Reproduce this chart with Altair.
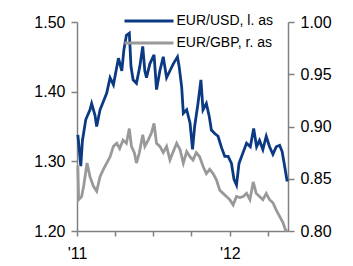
import altair as alt
import pandas as pd

usd_dates = [
    "2011-01-03", "2011-01-05", "2011-01-10", "2011-01-14", "2011-01-22", "2011-02-01",
    "2011-02-05", "2011-02-13", "2011-02-17", "2011-02-25", "2011-03-05", "2011-03-13",
    "2011-03-21", "2011-03-29", "2011-04-10", "2011-04-18", "2011-04-23", "2011-04-29",
    "2011-05-06", "2011-05-10", "2011-05-15", "2011-05-23", "2011-05-31", "2011-06-07",
    "2011-06-12", "2011-06-16", "2011-06-24", "2011-07-04", "2011-07-10", "2011-07-18",
    "2011-07-26", "2011-08-03", "2011-08-11", "2011-08-19", "2011-08-29", "2011-09-02",
    "2011-09-08", "2011-09-12", "2011-09-20", "2011-09-28", "2011-10-04", "2011-10-09",
    "2011-10-17", "2011-10-24", "2011-10-29", "2011-11-06", "2011-11-13", "2011-11-18",
    "2011-11-26", "2011-12-04", "2011-12-12", "2011-12-20", "2011-12-28", "2012-01-05",
    "2012-01-11", "2012-01-17", "2012-01-23", "2012-01-31", "2012-02-10", "2012-02-19",
    "2012-02-27", "2012-03-05", "2012-03-12", "2012-03-20", "2012-03-28", "2012-04-05",
    "2012-04-13", "2012-04-21", "2012-04-29", "2012-05-05", "2012-05-11", "2012-05-17",
]
usd_values = [
    1.338, 1.326, 1.293, 1.330, 1.360, 1.374,
    1.383, 1.366, 1.350, 1.374, 1.386, 1.398,
    1.420, 1.410, 1.448, 1.430, 1.460, 1.481,
    1.484, 1.436, 1.417, 1.412, 1.436, 1.465,
    1.430, 1.420, 1.440, 1.453, 1.403, 1.430,
    1.450, 1.420, 1.430, 1.440, 1.450, 1.436,
    1.407, 1.369, 1.374, 1.355, 1.317, 1.350,
    1.383, 1.417, 1.374, 1.383, 1.364, 1.345,
    1.340, 1.336, 1.320, 1.307, 1.307, 1.297,
    1.274, 1.266, 1.297, 1.310, 1.326, 1.321,
    1.347, 1.321, 1.330, 1.317, 1.336, 1.321,
    1.310, 1.321, 1.323, 1.314, 1.293, 1.271,
]

gbp_dates = [
    "2011-01-03", "2011-01-05", "2011-01-12", "2011-01-17", "2011-01-25", "2011-02-01",
    "2011-02-09", "2011-02-17", "2011-02-25", "2011-03-05", "2011-03-13", "2011-03-21",
    "2011-03-29", "2011-04-06", "2011-04-13", "2011-04-21", "2011-04-29", "2011-05-06",
    "2011-05-11", "2011-05-18", "2011-05-23", "2011-05-30", "2011-06-07", "2011-06-12",
    "2011-06-20", "2011-06-28", "2011-07-04", "2011-07-10", "2011-07-18", "2011-07-26",
    "2011-08-03", "2011-08-11", "2011-08-19", "2011-08-27", "2011-09-04", "2011-09-12",
    "2011-09-20", "2011-09-28", "2011-10-05", "2011-10-13", "2011-10-21", "2011-10-29",
    "2011-11-06", "2011-11-14", "2011-11-22", "2011-11-30", "2011-12-08", "2011-12-16",
    "2011-12-24", "2012-01-01", "2012-01-09", "2012-01-17", "2012-01-25", "2012-02-02",
    "2012-02-10", "2012-02-18", "2012-02-26", "2012-03-04", "2012-03-12", "2012-03-20",
    "2012-03-28", "2012-04-05", "2012-04-13", "2012-04-21", "2012-04-29", "2012-05-07",
    "2012-05-13", "2012-05-17",
]
gbp_values = [
    0.862, 0.830, 0.833, 0.843, 0.865, 0.852,
    0.843, 0.838, 0.852, 0.859, 0.865, 0.871,
    0.881, 0.884, 0.879, 0.887, 0.884, 0.898,
    0.881, 0.875, 0.865, 0.875, 0.892, 0.881,
    0.887, 0.894, 0.903, 0.884, 0.881, 0.875,
    0.881, 0.868, 0.876, 0.884, 0.878, 0.865,
    0.876, 0.871, 0.868, 0.875, 0.871, 0.862,
    0.855, 0.859, 0.855, 0.849, 0.839, 0.836,
    0.833, 0.830, 0.825, 0.833, 0.832, 0.833,
    0.836, 0.830, 0.847, 0.836, 0.833, 0.830,
    0.836, 0.830, 0.827, 0.820, 0.814, 0.808,
    0.801, 0.800,
]

series_names = ["EUR/USD, l. as", "EUR/GBP, r. as"]
series_colors = ["#0b3a82", "#999999"]
left_ticks = [1.20, 1.30, 1.40, 1.50]
right_ticks = [0.80, 0.85, 0.90, 0.95, 1.00]

usd = pd.DataFrame({"date": usd_dates, "value": usd_values, "series": series_names[0]})
gbp = pd.DataFrame({"date": gbp_dates, "value": gbp_values, "series": series_names[1]})

FONT = "Liberation Sans"
AX = "#808080"

x_ticks = [
    alt.DateTime(year=2011, month=1, date=1, utc=True),
    alt.DateTime(year=2011, month=4, date=1, utc=True),
    alt.DateTime(year=2011, month=7, date=1, utc=True),
    alt.DateTime(year=2011, month=10, date=1, utc=True),
    alt.DateTime(year=2012, month=1, date=1, utc=True),
    alt.DateTime(year=2012, month=4, date=1, utc=True),
]

x_enc = alt.X(
    "date:T",
    title=None,
    scale=alt.Scale(
        type="utc",
        domain=[alt.DateTime(year=2011, month=1, date=1, utc=True),
                alt.DateTime(year=2012, month=5, date=19, utc=True)],
    ),
    axis=alt.Axis(
        values=x_ticks,
        labelExpr="utcmonth(datum.value) == 0 ? \"'\" + utcFormat(datum.value, '%y') : ''",
        labelFlush=False,
        labelOverlap=False,
        grid=False,
        tickSize=5,
        labelPadding=9,
    ),
)

color_enc = alt.Color(
    "series:N",
    scale=alt.Scale(domain=series_names, range=series_colors),
    legend=alt.Legend(
        title=None,
        orient="none",
        legendX=60.5,
        legendY=-12.5,
        symbolType="M-2.45,0H2.45",
        symbolSize=400,
        symbolStrokeWidth=3,
        symbolFillColor="transparent",
        labelFont=FONT,
        labelFontSize=14,
        labelColor="#000000",
        labelOffset=16,
        rowPadding=3,
        padding=0,
    ),
)

left = alt.Chart(usd).mark_line(strokeWidth=2.8).encode(
    x=x_enc,
    y=alt.Y(
        "value:Q",
        title=None,
        scale=alt.Scale(domain=[1.20, 1.50], nice=False, zero=False),
        axis=alt.Axis(values=left_ticks, format=".2f", grid=False, orient="left",
                      tickSize=6, labelPadding=6),
    ),
    color=color_enc,
)

right = alt.Chart(gbp).mark_line(strokeWidth=2.8).encode(
    x=x_enc,
    y=alt.Y(
        "value:Q",
        title=None,
        scale=alt.Scale(domain=[0.80, 1.00], nice=False, zero=False),
        axis=alt.Axis(values=right_ticks, format=".2f", grid=False, orient="right",
                      tickSize=6, labelPadding=6),
    ),
    color=color_enc,
)

chart = (
    alt.layer(right, left)
    .resolve_scale(y="independent")
    .properties(
        width=211,
        height=209,
        autosize=alt.AutoSizeParams(type="none"),
        padding={"left": 69, "top": 14, "right": 57, "bottom": 36},
    )
    .configure_view(stroke=None)
    .configure_axis(
        domainColor=AX,
        tickColor=AX,
        domainWidth=1.5,
        tickWidth=1.5,
        labelFont=FONT,
        labelFontSize=16,
        labelColor="#000000",
    )
)

chart.save("out.html", embed_options={"renderer": "svg", "actions": False})
